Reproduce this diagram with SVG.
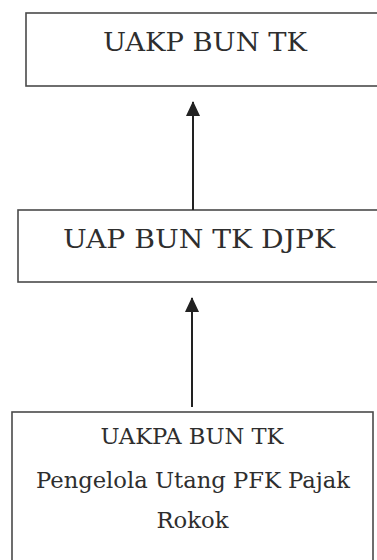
<svg xmlns="http://www.w3.org/2000/svg" width="377" height="560" viewBox="0 0 377 560">
<defs>
<style>
.box{fill:#fff;stroke:#4a4a4a;stroke-width:1.6}
.t{font-family:"DejaVu Serif","Liberation Serif",serif;fill:#2e2e2e;text-anchor:middle}
.big{font-size:26.5px}
.sm{font-size:22.5px}
.conn{stroke:#222;stroke-width:2;fill:none}
</style>
<marker id="ah" markerWidth="15" markerHeight="14" refX="14" refY="7" orient="auto" markerUnits="userSpaceOnUse" viewBox="0 0 15 14">
<path d="M0 0 L15 7 L0 14 Z" fill="#222"/>
</marker>
</defs>
<rect width="377" height="560" fill="#fff"/>
<g id="node-uakp">
<rect class="box" x="26" y="13" width="360" height="73"/>
<text class="t big" x="205" y="51" textLength="204" lengthAdjust="spacingAndGlyphs">UAKP BUN TK</text>
</g>
<g id="node-uap">
<rect class="box" x="18" y="210" width="370" height="72"/>
<text class="t big" x="199" y="248" textLength="272" lengthAdjust="spacingAndGlyphs">UAP BUN TK DJPK</text>
</g>
<g id="node-uakpa">
<rect class="box" x="12" y="412" width="361" height="160"/>
<text class="t sm" x="192" y="444" textLength="183" lengthAdjust="spacingAndGlyphs">UAKPA BUN TK</text>
<text class="t sm" x="193" y="488" textLength="314" lengthAdjust="spacingAndGlyphs">Pengelola Utang PFK Pajak</text>
<text class="t sm" x="192.5" y="528" textLength="72" lengthAdjust="spacingAndGlyphs">Rokok</text>
</g>
<g id="connectors">
<line class="conn" x1="193" y1="210" x2="193" y2="102" marker-end="url(#ah)"/>
<line class="conn" x1="192" y1="407" x2="192" y2="298" marker-end="url(#ah)"/>
</g>
</svg>
